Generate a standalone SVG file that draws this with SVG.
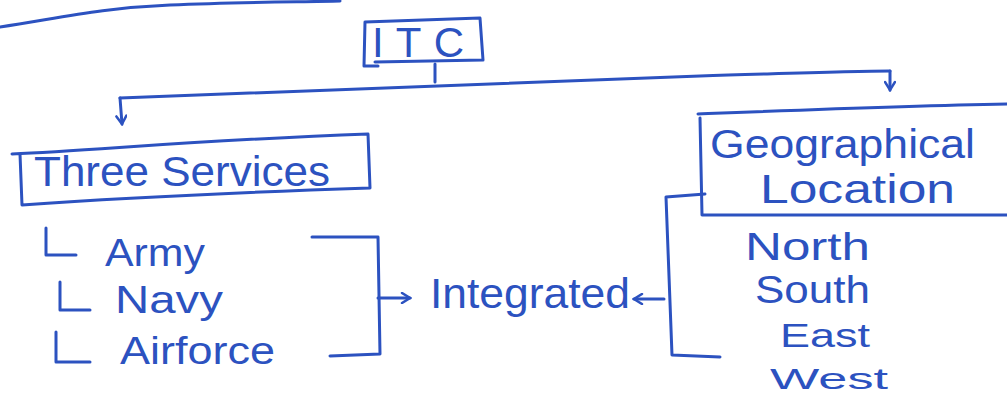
<svg xmlns="http://www.w3.org/2000/svg" width="1007" height="396" viewBox="0 0 1007 396">
  <defs>
    <style>
      .ink { fill: none; stroke: #2c52c0; stroke-width: 3; stroke-linecap: round; stroke-linejoin: round; }
      .lbl { font-family: "Liberation Sans", Arial, sans-serif; fill: #2c52c0; }
      .big { font-size: 42px; }
      .mid { font-size: 40px; }
      .sub { font-size: 38px; }
    </style>
    <marker id="head" viewBox="0 0 12 12" refX="10" refY="6" markerWidth="12" markerHeight="12" markerUnits="userSpaceOnUse" orient="auto">
      <path d="M2,1 L10,6 L2,11" fill="none" stroke="#2c52c0" stroke-width="2.5" stroke-linecap="round"/>
    </marker>
  </defs>
  <rect width="1007" height="396" fill="#ffffff"/>

  <!-- stroke running off the top edge -->
  <path class="ink" d="M0,27 C60,18 100,8 170,5 C240,2 300,2 340,1"/>

  <!-- ITC -->
  <g id="itc">
    <path class="ink" d="M365,22 L480,18 L483,60 L375,62 M365,22 L364,66 L378,66"/>
    <text class="lbl big" x="372" y="57" textLength="92" lengthAdjust="spacing">ITC</text>
  </g>

  <!-- Three Services -->
  <g id="three-services">
    <path class="ink" d="M12,154 C100,150 200,140 368,134 L370,188 C250,192 120,198 22,205 L20,154"/>
    <text class="lbl big" x="34" y="186" textLength="296" lengthAdjust="spacingAndGlyphs">Three Services</text>
  </g>

  <!-- service list -->
  <g id="services">
    <path class="ink" d="M46,228 L46,255 L76,255 M60,282 L60,310 L90,310 M56,332 L56,362 L90,362"/>
    <text class="lbl sub" x="105" y="266" textLength="100" lengthAdjust="spacingAndGlyphs">Army</text>
    <text class="lbl sub" x="115" y="313" textLength="108" lengthAdjust="spacingAndGlyphs">Navy</text>
    <text class="lbl sub" x="120" y="364" textLength="155" lengthAdjust="spacingAndGlyphs">Airforce</text>
  </g>

  <!-- Geographical Location -->
  <g id="geographical-location">
    <path class="ink" d="M698,114 C800,110 900,106 1007,104 M700,118 L702,215 L1007,215"/>
    <text class="lbl mid" x="710" y="158" textLength="265" lengthAdjust="spacingAndGlyphs">Geographical</text>
    <text class="lbl mid" x="760" y="203" textLength="195" lengthAdjust="spacingAndGlyphs">Location</text>
  </g>

  <!-- directions -->
  <g id="directions">
    <text class="lbl sub" x="745" y="260" textLength="125" lengthAdjust="spacingAndGlyphs">North</text>
    <text class="lbl sub" x="755" y="303" textLength="115" lengthAdjust="spacingAndGlyphs">South</text>
    <text class="lbl" x="780" y="347" font-size="34" textLength="90" lengthAdjust="spacingAndGlyphs">East</text>
    <text class="lbl" x="770" y="389" font-size="30" textLength="118" lengthAdjust="spacingAndGlyphs">West</text>
  </g>

  <!-- Integrated -->
  <g id="integrated">
    <text class="lbl big" x="430" y="308" textLength="200" lengthAdjust="spacingAndGlyphs">Integrated</text>
  </g>

  <!-- connectors -->
  <g id="connectors">
    <path class="ink" d="M435,64 L435,82"/>
    <path class="ink" d="M120,98 C300,92 500,84 700,76 C800,73 850,71 890,71"/>
    <path class="ink" d="M890,71 L890,90" marker-end="url(#head)"/>
    <path class="ink" d="M120,98 L122,124" marker-end="url(#head)"/>
    <path class="ink" d="M312,237 L378,237 L380,354 L330,356"/>
    <path class="ink" d="M378,298 L410,298" marker-end="url(#head)"/>
    <path class="ink" d="M705,194 L666,197 L672,355 L720,357"/>
    <path class="ink" d="M664,299 L634,299" marker-end="url(#head)"/>
  </g>
</svg>
